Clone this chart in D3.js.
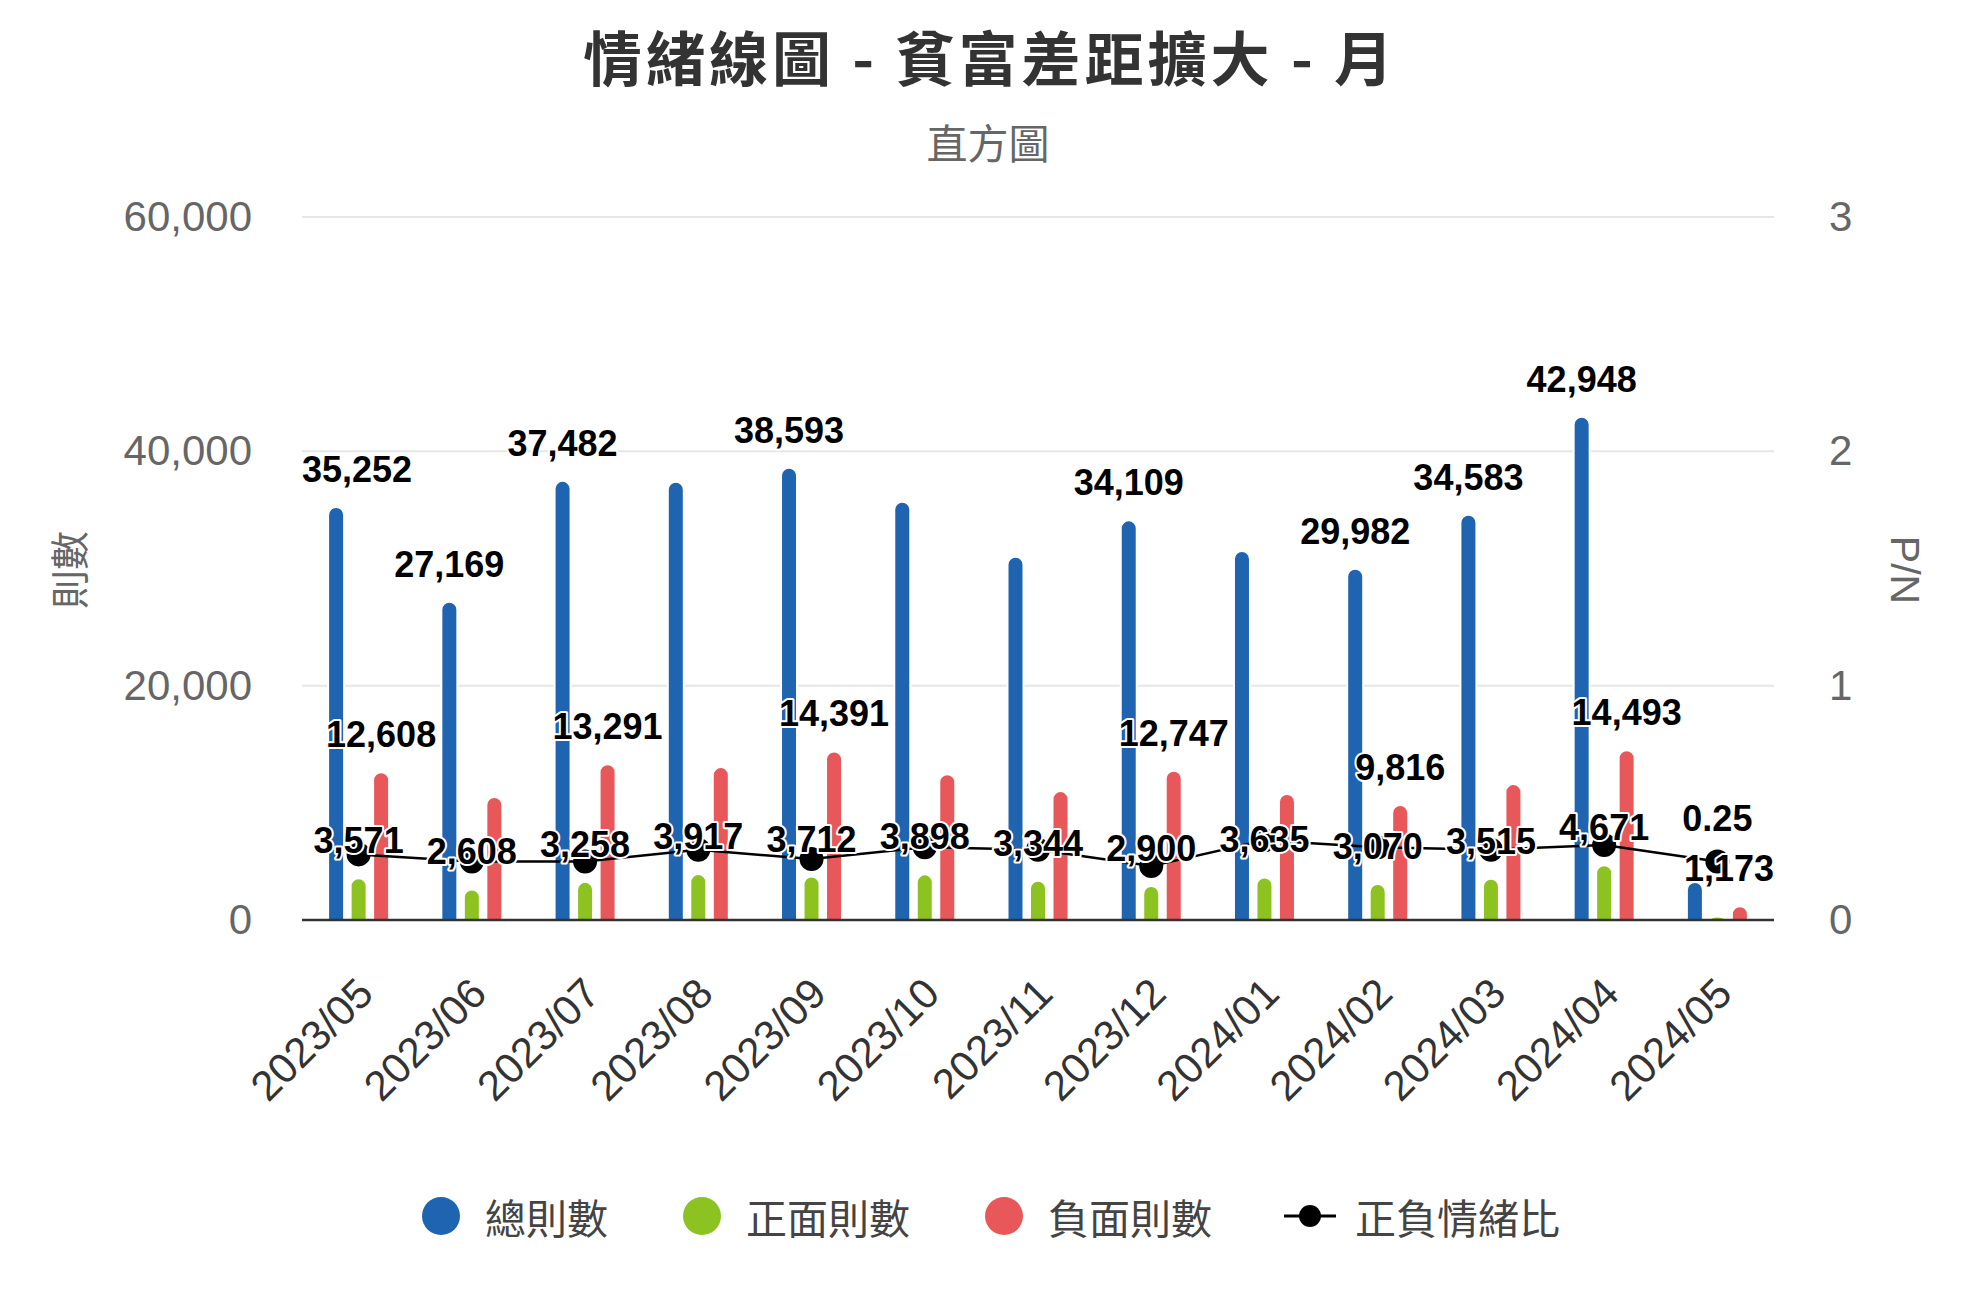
<!DOCTYPE html>
<html><head><meta charset="utf-8">
<script src="https://cdn.jsdelivr.net/npm/d3@7"></script>
<style>
body{margin:0;background:#fff;}
svg{display:block;}
</style>
</head><body>
<svg id="c" width="1976" height="1315"></svg>
<script>
// ---- data ----
const categories = ["2023/05","2023/06","2023/07","2023/08","2023/09","2023/10","2023/11","2023/12","2024/01","2024/02","2024/03","2024/04","2024/05"];
const totalCounts    = [35252, 27169, 37482, 37400, 38593, 35700, 31000, 34109, 31500, 29982, 34583, 42948, 3250];
const positiveCounts = [3571, 2608, 3258, 3917, 3712, 3898, 3344, 2900, 3635, 3070, 3515, 4671, 293];
const negativeCounts = [12608, 10500, 13291, 13050, 14391, 12450, 11000, 12747, 10750, 9816, 11600, 14493, 1173];
const pnRatio        = [0.28, 0.25, 0.25, 0.30, 0.26, 0.31, 0.30, 0.23, 0.34, 0.31, 0.30, 0.32, 0.25];
const leftTicks  = [0, 20000, 40000, 60000];
const rightTicks = [0, 1, 2, 3];
const seriesNames = ["總則數", "正面則數", "負面則數", "正負情緒比"];
const titleText = "情緒線圖 - 貧富差距擴大 - 月";
const subtitleText = "直方圖";
const leftAxisTitle = "則數";
const rightAxisTitle = "P/N";

// ---- layout ----
const W = 1976, H = 1315;
const m = {left: 302, right: 1774, top: 217, bottom: 920};
const colors = ["#1f64b0", "#8cc320", "#e8575a", "#000000"];
const FONT = "'Liberation Sans', Arial, Helvetica, sans-serif";
const CJK = "'Noto Sans CJK TC', 'Noto Sans CJK SC', sans-serif";

const svg = d3.select("#c");
svg.append("rect").attr("width", W).attr("height", H).attr("fill", "#fff");

const x = d3.scaleBand().domain(categories).range([m.left, m.right]);
const xSub = d3.scaleBand().domain(seriesNames.slice(0, 3)).range([-33.75, 33.75]);
const yL = d3.scaleLinear().domain([0, 60000]).range([m.bottom, m.top]);
const yR = d3.scaleLinear().domain([0, 3]).range([m.bottom, m.top]);
const cx = c => x(c) + x.bandwidth() / 2;

// title
svg.append("text").attr("x", 990).attr("y", 81).attr("text-anchor", "middle")
  .style("font-family", CJK).style("font-size", "59px").style("font-weight", "700")
  .style("letter-spacing", "4px")
  .attr("fill", "#333").text(titleText);
svg.append("text").attr("x", 988).attr("y", 159).attr("text-anchor", "middle")
  .style("font-family", CJK).style("font-size", "41px")
  .attr("fill", "#666").text(subtitleText);

// gridlines
svg.append("g").selectAll("line").data(leftTicks.filter(t => t !== 0)).join("line")
  .attr("x1", m.left).attr("x2", m.right)
  .attr("y1", d => yL(d)).attr("y2", d => yL(d))
  .attr("stroke", "#e6e6e6").attr("stroke-width", 2);

// left axis
const gL = svg.append("g").attr("transform", `translate(${m.left},0)`)
  .call(d3.axisLeft(yL).tickValues(leftTicks).tickSize(0).tickPadding(50).tickFormat(d3.format(",")));
gL.select(".domain").remove();
gL.selectAll("text").style("font-family", FONT).style("font-size", "42px").attr("fill", "#666");

// right axis
const gR = svg.append("g").attr("transform", `translate(${m.right},0)`)
  .call(d3.axisRight(yR).tickValues(rightTicks).tickSize(0).tickPadding(55).tickFormat(d3.format("d")));
gR.select(".domain").remove();
gR.selectAll("text").style("font-family", FONT).style("font-size", "42px").attr("fill", "#666");

// axis titles
svg.append("text").attr("transform", "translate(67,570) rotate(-90)")
  .attr("text-anchor", "middle").attr("dominant-baseline", "central")
  .style("font-family", CJK).style("font-size", "39px").attr("fill", "#666").text(leftAxisTitle);
svg.append("text").attr("transform", "translate(1905,570) rotate(90)")
  .attr("text-anchor", "middle").attr("dominant-baseline", "central")
  .style("font-family", FONT).style("font-size", "41px").attr("fill", "#666").text(rightAxisTitle);

// x axis labels
const gX = svg.append("g").attr("transform", `translate(0,${m.bottom})`)
  .call(d3.axisBottom(x).tickSize(0));
gX.select(".domain").remove();
gX.selectAll("text").attr("x", 0).attr("y", 0).attr("dy", null)
  .attr("text-anchor", "end")
  .attr("transform", "translate(17,76) rotate(-45)")
  .style("font-family", FONT).style("font-size", "42px").attr("fill", "#333");

// bars
const barW = 16;
function topRounded(x0, y0, w, yb) {
  const h = yb - y0;
  const ry = Math.max(0, Math.min(w / 2, h));
  return `M${x0},${yb}V${y0 + ry}A${w / 2},${ry} 0 0 1 ${x0 + w},${y0 + ry}V${yb}Z`;
}
const barSeries = [totalCounts, positiveCounts, negativeCounts];
const gBars = svg.append("g");
barSeries.forEach((vals, s) => {
  gBars.append("g").selectAll("path").data(vals).join("path")
    .attr("d", (v, i) => {
      const x0 = cx(categories[i]) + xSub(seriesNames[s]) + xSub.bandwidth() / 2 - barW / 2;
      return topRounded(x0, yL(v), barW, yL(0));
    })
    .attr("fill", colors[s]).attr("stroke", "#fff").attr("stroke-width", 2);
});

// baseline axis
svg.append("line").attr("x1", m.left).attr("x2", m.right)
  .attr("y1", yL(0)).attr("y2", yL(0)).attr("stroke", "#333").attr("stroke-width", 2.5);

// line
const line = d3.line().x((d, i) => cx(categories[i])).y(d => yR(d));
svg.append("path").datum(pnRatio).attr("d", line)
  .attr("fill", "none").attr("stroke", "#000").attr("stroke-width", 2.5);
svg.append("g").selectAll("circle").data(pnRatio).join("circle")
  .attr("cx", (d, i) => cx(categories[i])).attr("cy", d => yR(d)).attr("r", 12).attr("fill", "#000");

// data labels with overlap hiding
const labels = [];
barSeries.forEach((vals, s) => {
  vals.forEach((v, i) => {
    labels.push({
      text: d3.format(",")(v),
      x: cx(categories[i]) + xSub(seriesNames[s]) + xSub.bandwidth() / 2,
      y: yL(v) - 25,
      rank: yL(0) - yL(v)
    });
  });
});
pnRatio.forEach((v, i) => {
  labels.push({text: d3.format(".2f")(v), x: cx(categories[i]), y: yR(v) - 30, rank: 0});
});
const gLab = svg.append("g");
labels.forEach(l => {
  l.node = gLab.append("text").attr("x", l.x).attr("y", l.y).attr("text-anchor", "middle")
    .style("font-family", FONT).style("font-size", "36px").style("font-weight", "700")
    .attr("fill", "#000").attr("stroke", "#fff").attr("stroke-width", 4)
    .attr("paint-order", "stroke").attr("stroke-linejoin", "round").text(l.text);
  let bb = l.node.node().getBBox();
  if (bb.x + bb.width > m.right) { l.x -= (bb.x + bb.width - m.right); l.node.attr("x", l.x); }
  if (bb.x < m.left) { l.x += (m.left - bb.x); l.node.attr("x", l.x); }
  bb = l.node.node().getBBox();
  const pad = 4, c = l.y - 13;
  l.box = {x1: bb.x - pad, x2: bb.x + bb.width + pad, y1: c - 22, y2: c + 22};
  l.visible = true;
});
const sorted = labels.slice().sort((a, b) => b.rank - a.rank);
const inter = (a, b) => a.x1 < b.x2 && b.x1 < a.x2 && a.y1 < b.y2 && b.y1 < a.y2;
for (let i = 0; i < sorted.length; i++) {
  for (let j = i + 1; j < sorted.length; j++) {
    const a = sorted[i], b = sorted[j];
    if (a.visible && b.visible && inter(a.box, b.box)) {
      (a.rank < b.rank ? a : b).visible = false;
    }
  }
}
labels.forEach(l => { if (!l.visible) l.node.remove(); });

// legend
const legendY = 1216;
const legendItems = [
  {name: seriesNames[0], sx: 441, tx: 485, color: colors[0], type: "circle"},
  {name: seriesNames[1], sx: 702, tx: 746, color: colors[1], type: "circle"},
  {name: seriesNames[2], sx: 1004, tx: 1048, color: colors[2], type: "circle"},
  {name: seriesNames[3], sx: 1310, tx: 1355, color: colors[3], type: "line"}
];
const gLeg = svg.append("g");
legendItems.forEach(it => {
  if (it.type === "circle") {
    gLeg.append("circle").attr("cx", it.sx).attr("cy", legendY).attr("r", 19).attr("fill", it.color);
  } else {
    gLeg.append("line").attr("x1", it.sx - 26).attr("x2", it.sx + 26).attr("y1", legendY).attr("y2", legendY)
      .attr("stroke", it.color).attr("stroke-width", 3);
    gLeg.append("circle").attr("cx", it.sx).attr("cy", legendY).attr("r", 11).attr("fill", it.color);
  }
  gLeg.append("text").attr("x", it.tx).attr("y", legendY).attr("dominant-baseline", "central")
    .style("font-family", CJK).style("font-size", "41px").attr("fill", "#444").text(it.name);
});
</script>
</body></html>
